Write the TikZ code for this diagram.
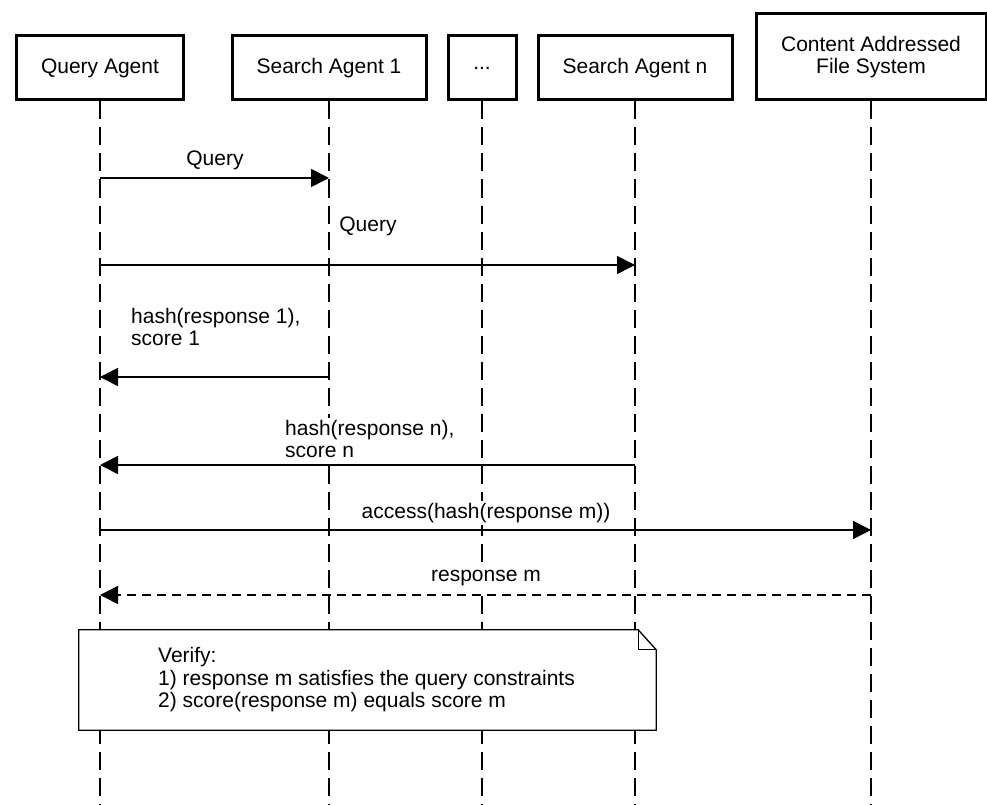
\documentclass[tikz,border=0pt]{standalone}
\usepackage{fontspec}
\setmainfont{Liberation Sans}
\usetikzlibrary{arrows.meta,calc}
\begin{document}
\begin{tikzpicture}[x=1pt,y=-1pt,
  font=\fontsize{21}{22.5}\selectfont,
  actor/.style={draw, line width=3pt, align=center, inner sep=0pt, minimum height=64pt},
  lifeline/.style={line width=1.6pt, dash pattern=on 18pt off 8pt},
  msg/.style={line width=1.6pt, -{Triangle[length=18pt,width=18pt]}},
  reply/.style={msg, dash pattern=on 9pt off 6pt},
  lbl/.style={inner sep=2pt, align=left, fill=white}]
\useasboundingbox (0,0) rectangle (987,805);
\fill[white] (0,0) rectangle (987,805);

% actors
\node[actor, minimum width=167pt] (qa) at (100,68) {Query Agent};
\node[actor, minimum width=194pt] (sa1) at (329,68) {Search Agent 1};
\node[actor, minimum width=68pt] (dots) at (482,68) {...};
\node[actor, minimum width=194pt] (san) at (635,68) {Search Agent n};
\node[actor, minimum width=230pt, minimum height=86pt] (cafs) at (871,57) {Content Addressed\\File System};

% lifeline ends
\coordinate (qaE) at (100,805);
\coordinate (sa1E) at (329,805);
\coordinate (dotsE) at (482,805);
\coordinate (sanE) at (635,805);
\coordinate (cafsE) at (871,805);

\draw[lifeline] (qa.south) -- (qaE);
\draw[lifeline] (sa1.south) -- (sa1E);
\draw[lifeline] (dots.south) -- (dotsE);
\draw[lifeline] (san.south) -- (sanE);
\draw[lifeline] (cafs.south) -- (cafsE);

% message endpoints
\coordinate (m1a) at (100,178); \coordinate (m1b) at (329,178);
\coordinate (m2a) at (100,265); \coordinate (m2b) at (635,265);
\coordinate (m3a) at (329,377); \coordinate (m3b) at (100,377);
\coordinate (m4a) at (635,465); \coordinate (m4b) at (100,465);
\coordinate (m5a) at (100,530); \coordinate (m5b) at (871,530);
\coordinate (m6a) at (871,595); \coordinate (m6b) at (100,595);

\node[lbl] (l1) at (215,160) {Query};
\node[lbl] (l2) at (368,226) {Query};
\node[lbl, anchor=west] (l3) at (129,327) {hash(response 1),\\score 1};
\node[lbl, anchor=west] (l4) at (283,439) {hash(response n),\\score n};
\node[lbl] (l5) at (486,513) {access(hash(response m))};
\node[lbl] (l6) at (486,578) {response m};

\draw[msg] (m1a) -- (m1b);
\draw[msg] (m2a) -- (m2b);
\draw[msg] (m3a) -- (m3b);
\draw[msg] (m4a) -- (m4b);
\draw[msg] (m5a) -- (m5b);
\draw[reply] (m6a) -- (m6b);

% note
\node[minimum width=577pt, minimum height=100pt, inner sep=0pt] (note) at (367.5,680) {};
\filldraw[fill=white, draw=black, line width=1.3pt]
  (note.north west) -- ($(note.north east)+(-18,0)$) -- ($(note.north east)+(0,20)$)
  -- (note.south east) -- (note.south west) -- cycle;
\draw[line width=1.3pt] ($(note.north east)+(-18,0)$) -- ($(note.north east)+(-18,20)$) -- ($(note.north east)+(0,20)$);
\node[lbl, anchor=west, fill=none] (notetext) at (156,680) {Verify:\\1) response m satisfies the query constraints\\2) score(response m) equals score m};
\end{tikzpicture}
\end{document}
